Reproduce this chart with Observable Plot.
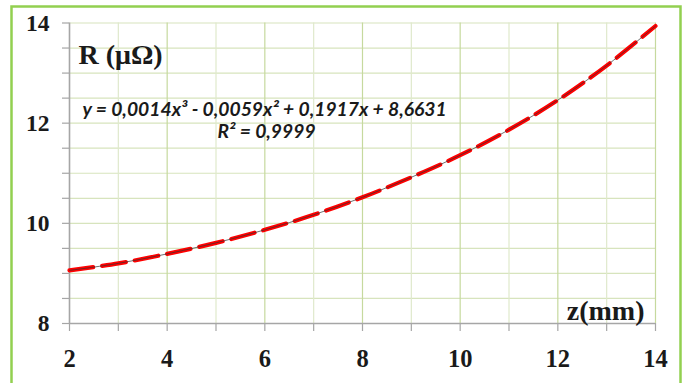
<!DOCTYPE html>
<html>
<head>
<meta charset="utf-8">
<script src="https://cdn.jsdelivr.net/npm/d3@7"></script>
<script src="https://cdn.jsdelivr.net/npm/@observablehq/plot@0.6"></script>
<style>
  html, body { margin: 0; padding: 0; background: #fff; }
</style>
</head>
<body>
<div id="chart"></div>
<script>
// Data
const zMM = [2, 3, 4, 5, 6, 7, 8, 9, 10, 11, 12, 13, 14];
const rMicroOhm = [9.06, 9.20, 9.39, 9.61, 9.87, 10.17, 10.52, 10.92, 11.36, 11.87, 12.46, 13.15, 13.94];

const xLabelTicks = [2, 4, 6, 8, 10, 12, 14];
const xMinorGrid = [3, 5, 7, 9, 11, 13];
const xMajorGrid = [4, 6, 8, 10, 12, 14];
const yLabelTicks = [8, 10, 12, 14];
const yAllTicks = [8, 8.5, 9, 9.5, 10, 10.5, 11, 11.5, 12, 12.5, 13, 13.5, 14];

const yTitle = ["R (μΩ)"];
const xTitle = ["z(mm)"];
const equation = ["y = 0,0014x³ - 0,0059x² + 0,1917x + 8,6631"];
const rSquared = ["R² = 0,9999"];

const data = zMM.map((z, i) => ({z, r: rMicroOhm[i]}));

const serif = "Liberation Serif, serif";
const sansIt = "Lato, sans-serif";
const axisGray = "#a6a6a6";

const chart = Plot.plot({
  width: 685,
  height: 383,
  marginLeft: 69,
  marginRight: 30,
  marginTop: 22.5,
  marginBottom: 60,
  x: {domain: [2, 14]},
  y: {domain: [8, 14]},
  style: {background: "#fff", fontFamily: serif},
  marks: [
    Plot.gridY(yAllTicks.slice(1), {stroke: "#d7e4bd", strokeOpacity: 1, strokeWidth: 1.2}),
    Plot.gridX(xMinorGrid, {stroke: "#dfe9cc", strokeOpacity: 1, strokeWidth: 1.2}),
    Plot.gridX(xMajorGrid, {stroke: "#c6d99e", strokeOpacity: 1, strokeWidth: 1.2}),
    Plot.axisY(yAllTicks, {tickSize: 7, tickFormat: () => "", stroke: axisGray, strokeWidth: 1.2, label: null}),
    Plot.axisX(zMM, {tickSize: 8, tickFormat: () => "", stroke: axisGray, strokeWidth: 1.2, label: null}),
    Plot.axisY(yLabelTicks, {tickSize: 0, tickPadding: 20, tickFormat: d3.format("d"), fontSize: 23.5, fontWeight: "bold", fill: "#1a1a1a", fontFamily: serif, label: null}),
    Plot.axisX(xLabelTicks, {tickSize: 0, tickPadding: 26, tickFormat: d3.format("d"), fontSize: 24.5, fontWeight: "bold", fill: "#1a1a1a", fontFamily: serif, label: null}),
    Plot.ruleX([2], {stroke: axisGray, strokeWidth: 1.6}),
    Plot.ruleY([8], {stroke: axisGray, strokeWidth: 1.6}),
    Plot.line(data, {x: "z", y: "r", stroke: "#ff0000", strokeWidth: 4.2, strokeDasharray: "24,9", curve: "catmull-rom"}),
    Plot.line(data, {x: "z", y: "r", stroke: "#333", strokeWidth: 0.7, curve: "catmull-rom"}),
    Plot.text(yTitle, {frameAnchor: "top-left", dx: 9, dy: 32.5, textAnchor: "start", lineAnchor: "middle", fontSize: 28, fontWeight: "bold", fill: "#1a1a1a", fontFamily: serif}),
    Plot.text(xTitle, {frameAnchor: "bottom-right", dx: -11, dy: -12.5, textAnchor: "end", lineAnchor: "middle", fontSize: 28, fontWeight: "bold", fill: "#1a1a1a", fontFamily: serif}),
    Plot.text(equation, {frameAnchor: "top-left", dx: 13, dy: 87, textAnchor: "start", lineAnchor: "middle", fontSize: 19.3, fontWeight: "bold", fontStyle: "italic", fill: "#1a1a1a", fontFamily: sansIt}),
    Plot.text(rSquared, {frameAnchor: "top-left", dx: 148, dy: 109, textAnchor: "start", lineAnchor: "middle", fontSize: 19.3, fontWeight: "bold", fontStyle: "italic", fill: "#1a1a1a", fontFamily: sansIt})
  ]
});

// make sure tick labels use the serif face at the intended size
const sv = d3.select(chart);
sv.selectAll('g[aria-label="y-axis tick label"]').filter(function () { return d3.select(this).selectAll("text").size() > 0 && d3.select(this).text() !== ""; })
  .attr("font-family", serif).attr("font-size", 23.5).attr("font-weight", "bold");
sv.selectAll('g[aria-label="x-axis tick label"]').filter(function () { return d3.select(this).text() !== ""; })
  .attr("font-family", serif).attr("font-size", 24.5).attr("font-weight", "bold");

// decorative chart-area border
sv.append("rect")
  .attr("x", 11.5).attr("y", 6.5)
  .attr("width", 669).attr("height", 400)
  .attr("fill", "none")
  .attr("stroke", "#92d050")
  .attr("stroke-width", 2.5);

document.getElementById("chart").appendChild(chart);
</script>
</body>
</html>
